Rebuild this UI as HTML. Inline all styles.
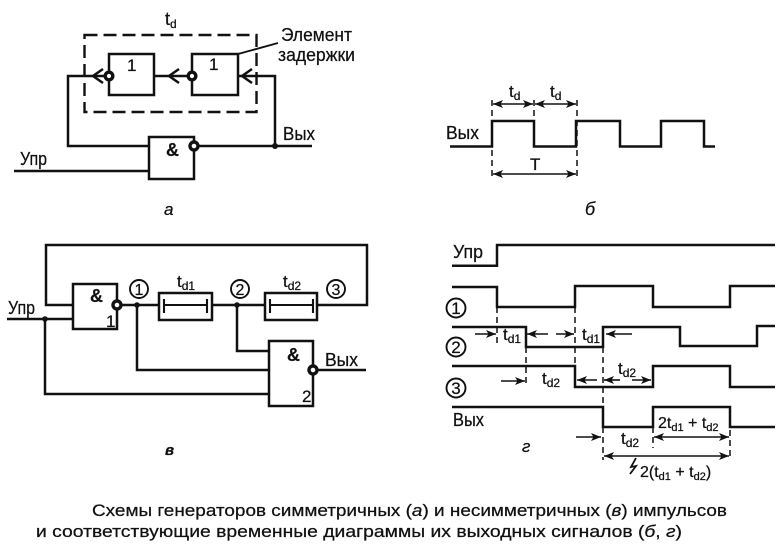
<!DOCTYPE html>
<html><head><meta charset="utf-8"><style>
html,body{margin:0;padding:0;background:#fff}
svg{display:block}
text{font-family:"Liberation Sans",sans-serif;fill:#111;stroke:#111;stroke-width:.25}
.l{fill:none;stroke:#111;stroke-width:2.5}
.t{fill:none;stroke:#111;stroke-width:1.6}
.d{fill:none;stroke:#111;stroke-width:1.5;stroke-dasharray:6 4}
.o{fill:#fff;stroke:#111;stroke-width:3.4}
.c{fill:#fff;stroke:#111;stroke-width:1.9}
.a{fill:#111;stroke:none}
.s{font-size:18px}.m{font-size:17px}.b{font-weight:bold}
.i{font-style:italic}
</style></head><body>
<svg width="784" height="556" viewBox="0 0 784 556" xmlns="http://www.w3.org/2000/svg">
<defs>
<marker id="ar" markerWidth="12" markerHeight="10" refX="10" refY="5" orient="auto-start-reverse" markerUnits="userSpaceOnUse"><path d="M0 1L10 5L0 9L2.500 5Z" fill="#111"/></marker>
</defs>

<!-- a -->
<text x="165" y="25" font-size="18">t<tspan font-size="12" dy="3">d</tspan></text>
<rect x="84.500" y="35" width="172" height="77" fill="none" stroke="#111" stroke-width="2.400" stroke-dasharray="13 6"/>
<rect x="109" y="54" width="45" height="41" class="l"/>
<rect x="192" y="54" width="46" height="41" class="l"/>
<rect x="149" y="137" width="45" height="42" class="l"/>
<path class="l" d="M105 76H68V146H149M154 76H188M238 76H275V146M197 146H312M14 171H149"/>
<path class="l" d="M103 69L93 76L103 83M179 69L169 76L179 83M252 69L242 76L252 83"/>
<circle cx="109" cy="76" r="3.800" class="o"/><circle cx="192" cy="76" r="3.800" class="o"/><circle cx="194" cy="146" r="4" class="o"/>
<circle cx="275" cy="146" r="3" class="a"/>
<path class="t" d="M238 54L278 43" style="stroke-width:1.900"/>
<text x="127" y="71" class="m">1</text><text x="209" y="70" class="m">1</text>
<text x="166" y="156" class="s b">&amp;</text>
<text x="281" y="41" class="s" textLength="71" lengthAdjust="spacingAndGlyphs">Элемент</text><text x="278" y="61" class="s" textLength="77" lengthAdjust="spacingAndGlyphs">задержки</text>
<text x="283" y="140" class="s" textLength="32" lengthAdjust="spacingAndGlyphs">Вых</text>
<text x="20" y="165" class="s" textLength="27" lengthAdjust="spacingAndGlyphs">Упр</text>
<text x="164" y="215" font-size="17" class="i">а</text>

<!-- b -->
<path class="l" d="M450 146.500H492V121H534V146.500H576V121H620V146.500H661V121H704V146.500H715"/>
<path class="d" d="M492 100V176M534 100V122M577 100V176"/>
<path class="t" d="M493 104H533" marker-start="url(#ar)" marker-end="url(#ar)"/>
<path class="t" d="M535 104H576" marker-start="url(#ar)" marker-end="url(#ar)"/>
<path class="t" d="M493 174H576" marker-start="url(#ar)" marker-end="url(#ar)"/>
<text x="509" y="97" font-size="17">t<tspan font-size="12" dy="3">d</tspan></text>
<text x="550" y="97" font-size="17">t<tspan font-size="12" dy="3">d</tspan></text>
<text x="530" y="170" font-size="17">T</text>
<text x="446" y="139" class="s" textLength="33" lengthAdjust="spacingAndGlyphs">Вых</text>
<text x="585" y="215" font-size="18" class="i">б</text>

<!-- v -->
<path class="l" d="M73 305H46V245H367V305H317M7 319H73M45 319V394H269M121 305H159M212 305H265M137 305V370H269M237 305V351H269M317 370H366"/>
<rect x="73" y="284" width="44" height="45" class="l"/>
<rect x="159" y="293" width="53" height="27" class="l"/>
<rect x="265" y="293" width="52" height="27" class="l"/>
<rect x="269" y="341" width="44" height="65" class="l"/>
<path class="t" d="M164 305H207M164 299V313M207 299V313M270 305H313M270 299V313M313 299V313" style="stroke-width:2.100"/>
<circle cx="117" cy="305" r="4" class="o"/><circle cx="313" cy="370" r="4" class="o"/>
<circle cx="45" cy="319" r="2.800" class="a"/><circle cx="137" cy="305" r="2.800" class="a"/><circle cx="237" cy="305" r="2.800" class="a"/>
<circle cx="139" cy="289" r="9" class="c"/><circle cx="240" cy="289" r="9" class="c"/><circle cx="336" cy="289" r="9" class="c"/>
<text x="139" y="295" text-anchor="middle" font-size="16">1</text><text x="240" y="295" text-anchor="middle" font-size="16">2</text><text x="336" y="295" text-anchor="middle" font-size="16">3</text>
<text x="177" y="287" font-size="17">t<tspan font-size="12" dy="3">d1</tspan></text>
<text x="283" y="287" font-size="17">t<tspan font-size="12" dy="3">d2</tspan></text>
<text x="90" y="302" class="s b">&amp;</text><text x="287" y="361" class="s b">&amp;</text>
<text x="106" y="327" class="m">1</text><text x="302" y="402" class="m">2</text>
<text x="8" y="314" class="s" textLength="27" lengthAdjust="spacingAndGlyphs">Упр</text>
<text x="325" y="366" class="s" textLength="33" lengthAdjust="spacingAndGlyphs">Вых</text>
<text x="165" y="455" font-size="15" class="i b">в</text>

<!-- g -->
<path class="l" d="M452 265.700H497V245H775"/>
<path class="l" d="M452 287H497V307H575V286H653V307H730V286H775"/>
<path class="l" d="M452 327H526V347H603V327H680V346H757V326H775"/>
<path class="l" d="M452 366H575V387H653V366H730V387H775"/>
<path class="l" d="M452 407H603V427H653V407H730V427H775"/>
<path class="d" d="M497 307V346M575 307V387M603 347V460M526 347V384M653 427V448M730 430V460"/>
<text x="453" y="258" class="s" textLength="30" lengthAdjust="spacingAndGlyphs">Упр</text>
<text x="453" y="426" class="s" textLength="31" lengthAdjust="spacingAndGlyphs">Вых</text>
<circle cx="456" cy="308" r="9.500" class="c"/><circle cx="456" cy="347" r="9.500" class="c"/><circle cx="456" cy="388" r="9.500" class="c"/>
<text x="456" y="314" text-anchor="middle" font-size="17">1</text><text x="456" y="353" text-anchor="middle" font-size="17">2</text><text x="456" y="394" text-anchor="middle" font-size="17">3</text>
<path class="t" d="M475 334H496" marker-end="url(#ar)"/>
<path class="t" d="M548 334H527" marker-end="url(#ar)"/>
<path class="t" d="M556 334H574" marker-end="url(#ar)"/>
<path class="t" d="M632 334H606" marker-end="url(#ar)"/>
<path class="t" d="M501 381H525" marker-end="url(#ar)"/>
<path class="t" d="M597 380H577" marker-end="url(#ar)"/>
<path class="t" d="M620 380H604" marker-end="url(#ar)"/>
<path class="t" d="M632 380H651" marker-end="url(#ar)"/>
<path class="t" d="M576 437H601" marker-end="url(#ar)"/>
<path class="t" d="M654 437H729" marker-start="url(#ar)" marker-end="url(#ar)"/>
<path class="t" d="M604 456H729" marker-start="url(#ar)" marker-end="url(#ar)"/>
<path class="t" d="M636 458L631 467L636 466L630 474" style="stroke-width:1.800"/>
<text x="503" y="340" class="m">t<tspan font-size="12" dy="3">d1</tspan></text>
<text x="582" y="340" class="m">t<tspan font-size="12" dy="3">d1</tspan></text>
<text x="542" y="384" class="m">t<tspan font-size="12" dy="3">d2</tspan></text>
<text x="618" y="374" class="m">t<tspan font-size="12" dy="3">d2</tspan></text>
<text x="621" y="444" class="m">t<tspan font-size="12" dy="3">d2</tspan></text>
<text x="658" y="428" font-size="16">2t<tspan font-size="11" dy="3">d1</tspan><tspan dy="-3"> + t</tspan><tspan font-size="11" dy="3">d2</tspan></text>
<text x="640" y="477" font-size="16">2(t<tspan font-size="11" dy="3">d1</tspan><tspan dy="-3"> + t</tspan><tspan font-size="11" dy="3">d2</tspan><tspan dy="-3">)</tspan></text>
<text x="522" y="452" font-size="17" class="i">г</text>

<!-- caption -->
<text x="92" y="516" font-size="17" textLength="635" lengthAdjust="spacingAndGlyphs">Схемы генераторов симметричных (<tspan font-style="italic">а</tspan>) и несимметричных (<tspan font-style="italic">в</tspan>) импульсов</text>
<text x="36" y="537" font-size="17" textLength="646" lengthAdjust="spacingAndGlyphs">и соответствующие временные диаграммы их выходных сигналов (<tspan font-style="italic">б</tspan>, <tspan font-style="italic">г</tspan>)</text>
</svg>
</body></html>
